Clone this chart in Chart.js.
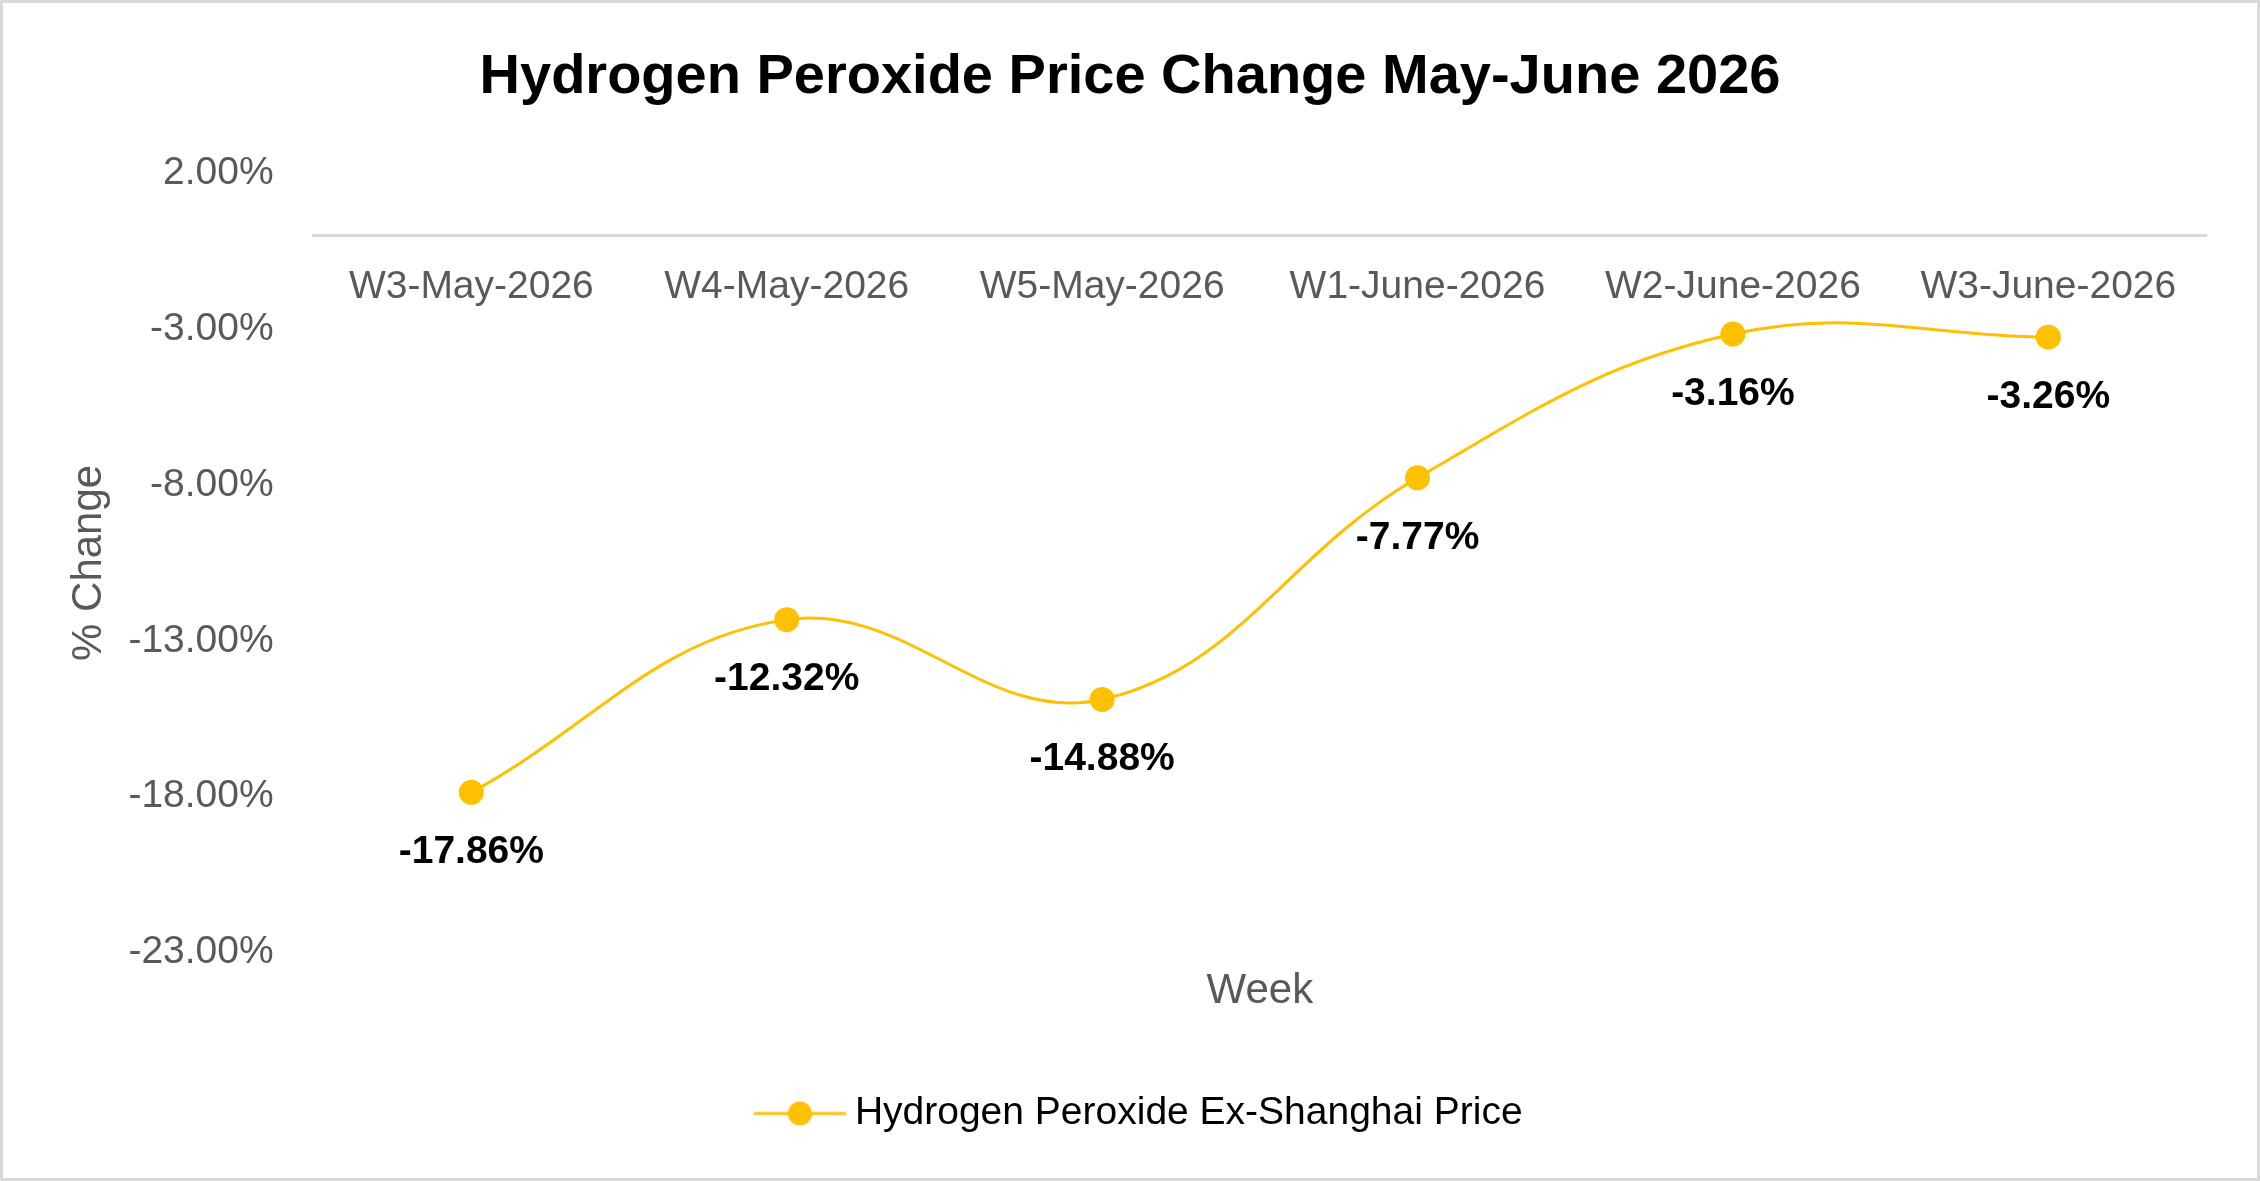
<!DOCTYPE html>
<html>
<head>
<meta charset="utf-8">
<title>Hydrogen Peroxide Price Change May-June 2026</title>
<script src="https://cdn.jsdelivr.net/npm/chart.js@4.4.1/dist/chart.umd.min.js"></script>
<style>
  html, body { margin: 0; padding: 0; background: #ffffff; overflow: hidden; }
  canvas { display: block; }
</style>
</head>
<body>
<canvas id="priceChart" width="2260" height="1181"></canvas>
<script>
// Chart data
const weeks = ['W3-May-2026', 'W4-May-2026', 'W5-May-2026', 'W1-June-2026', 'W2-June-2026', 'W3-June-2026'];
const priceChange = [-17.86, -12.32, -14.88, -7.77, -3.16, -3.26];
const yTicks = [2, -3, -8, -13, -18, -23];

const seriesName = 'Hydrogen Peroxide Ex-Shanghai Price';
const lineColor = '#FFC000';
const tickColor = '#595959';
const fontFamily = '"Liberation Sans", Arial, sans-serif';

Chart.defaults.font.family = fontFamily;

// Legend marker: line with a dot in the middle
// (drawn off-centre in a wider canvas so the legend row sits like Excel's)
function legendMarker() {
    const c = document.createElement('canvas');
    c.width = 140;
    c.height = 28;
    const g = c.getContext('2d');
    g.strokeStyle = lineColor;
    g.lineWidth = 3;
    g.beginPath();
    g.moveTo(37.5, 14);
    g.lineTo(129.5, 14);
    g.stroke();
    g.fillStyle = lineColor;
    g.beginPath();
    g.arc(83.5, 14, 12, 0, Math.PI * 2);
    g.fill();
    return c;
}
const marker = legendMarker();

// White background + light grey frame
const chartFrame = {
    id: 'chartFrame',
    beforeDraw(chart) {
        const ctx = chart.ctx;
        ctx.save();
        ctx.fillStyle = '#ffffff';
        ctx.fillRect(0, 0, chart.width, chart.height);
        ctx.restore();
    },
    afterDraw(chart) {
        const ctx = chart.ctx;
        ctx.save();
        ctx.strokeStyle = '#d9d9d9';
        ctx.lineWidth = 3;
        ctx.strokeRect(1.5, 1.5, chart.width - 3, chart.height - 3);
        ctx.restore();
    }
};

// Value labels under each point
const pointLabels = {
    id: 'pointLabels',
    afterDatasetsDraw(chart) {
        const ctx = chart.ctx;
        const meta = chart.getDatasetMeta(0);
        ctx.save();
        ctx.font = 'bold 39px ' + fontFamily;
        ctx.fillStyle = '#000000';
        ctx.textAlign = 'center';
        ctx.textBaseline = 'middle';
        meta.data.forEach((pt, i) => {
            ctx.fillText(priceChange[i].toFixed(2) + '%', pt.x, pt.y + 60);
        });
        ctx.restore();
    }
};

new Chart(document.getElementById('priceChart'), {
    type: 'line',
    data: {
        labels: weeks,
        datasets: [{
            label: seriesName,
            data: priceChange,
            borderColor: lineColor,
            backgroundColor: lineColor,
            borderWidth: 3,
            pointRadius: 12.5,
            pointHoverRadius: 12.5,
            pointBorderWidth: 0,
            pointBackgroundColor: lineColor,
            tension: 0.4,
            fill: false,
            xAxisID: 'x',
            yAxisID: 'y'
        }]
    },
    options: {
        responsive: false,
        animation: false,
        layout: {
            padding: { top: 44, left: 37, right: 37, bottom: 38 }
        },
        plugins: {
            tooltip: { enabled: false },
            title: {
                display: true,
                text: 'Hydrogen Peroxide Price Change May-June 2026',
                color: '#000000',
                font: { size: 56, weight: 'bold' },
                padding: { top: 0, bottom: 62 }
            },
            legend: {
                position: 'bottom',
                labels: {
                    color: '#000000',
                    font: { size: 39 },
                    padding: 10,
                    usePointStyle: true,
                    pointStyleWidth: 98,
                    generateLabels(chart) {
                        const items = Chart.defaults.plugins.legend.labels.generateLabels(chart);
                        items.forEach(item => { item.pointStyle = marker; });
                        return items;
                    }
                }
            }
        },
        scales: {
            x: {
                type: 'category',
                position: { y: 0 },
                offset: true,
                grid: { display: false, drawTicks: false },
                border: { display: true, color: '#d9d9d9', width: 3 },
                ticks: {
                    color: tickColor,
                    font: { size: 39 },
                    padding: 28,
                    maxRotation: 0,
                    autoSkip: false
                }
            },
            x2: {
                type: 'category',
                position: 'bottom',
                offset: true,
                grid: { display: false, drawTicks: false },
                border: { display: false },
                ticks: { display: false },
                title: {
                    display: true,
                    text: 'Week',
                    color: tickColor,
                    font: { size: 42 },
                    padding: { top: 14, bottom: 67 }
                }
            },
            y: {
                min: -23,
                max: 2,
                afterBuildTicks(scale) {
                    scale.ticks = yTicks.map(v => ({ value: v }));
                },
                grid: { display: false, drawTicks: false },
                border: { display: false },
                ticks: {
                    color: tickColor,
                    font: { size: 39 },
                    padding: 40,
                    callback: value => value.toFixed(2) + '%'
                },
                title: {
                    display: true,
                    text: '% Change',
                    color: tickColor,
                    font: { size: 42 },
                    padding: { top: 27, bottom: -26 }
                }
            },
            // empty right-hand gutter so the plot ends where the reference does
            yRight: {
                type: 'linear',
                position: 'right',
                display: true,
                grid: { display: false, drawTicks: false },
                border: { display: false },
                ticks: { display: false },
                afterFit(scale) {
                    scale.width = 17;
                }
            }
        }
    },
    plugins: [chartFrame, pointLabels]
});
</script>
</body>
</html>
